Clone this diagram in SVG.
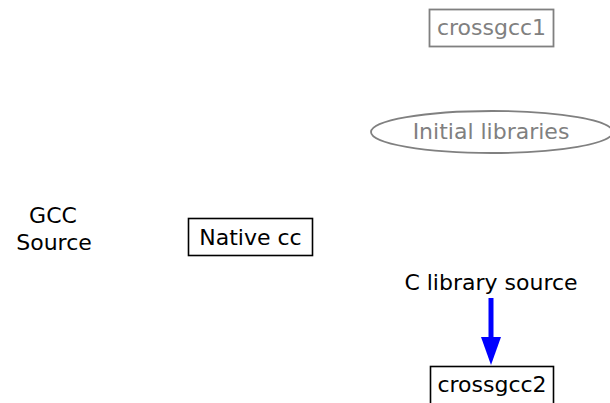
<svg xmlns="http://www.w3.org/2000/svg" width="610" height="403" viewBox="0 0 610 403">
<defs>
<style>
text{font-family:"DejaVu Sans","Liberation Sans",sans-serif;font-size:22px;text-anchor:middle}
.g{fill:#808080}
.k{fill:#000}
.bx{fill:#fff;stroke:#000;stroke-width:1.6}
.gbx{fill:#fff;stroke:#808080;stroke-width:1.8}
.edge{stroke:#0000ff;stroke-width:5;fill:none}
.head{fill:#0000ff;stroke:none}
</style>
</defs>
<rect width="610" height="403" fill="#fff"/>
<g id="crossgcc1"><rect class="gbx" x="429.5" y="9.5" width="124" height="37"/><text class="g" x="491.5" y="35">crossgcc1</text></g>
<g id="initial-libraries"><ellipse cx="492" cy="132" rx="121" ry="21" fill="#fff" stroke="#808080" stroke-width="1.8"/><text class="g" x="491" y="139">Initial libraries</text></g>
<g id="gcc-source"><text class="k" x="53" y="223">GCC</text><text class="k" x="54" y="250">Source</text></g>
<g id="native-cc"><rect class="bx" x="188.5" y="218.5" width="124" height="37"/><text class="k" x="250.5" y="245">Native cc</text></g>
<g id="c-library-source"><text class="k" x="491" y="290">C library source</text></g>
<g id="crossgcc2"><rect class="bx" x="430.5" y="366.5" width="123" height="38"/><text class="k" x="492" y="392">crossgcc2</text></g>
<g id="connectors"><line class="edge" x1="491" y1="298" x2="491" y2="340"/><polygon class="head" points="481,337 501,337 491,365"/></g>
</svg>
